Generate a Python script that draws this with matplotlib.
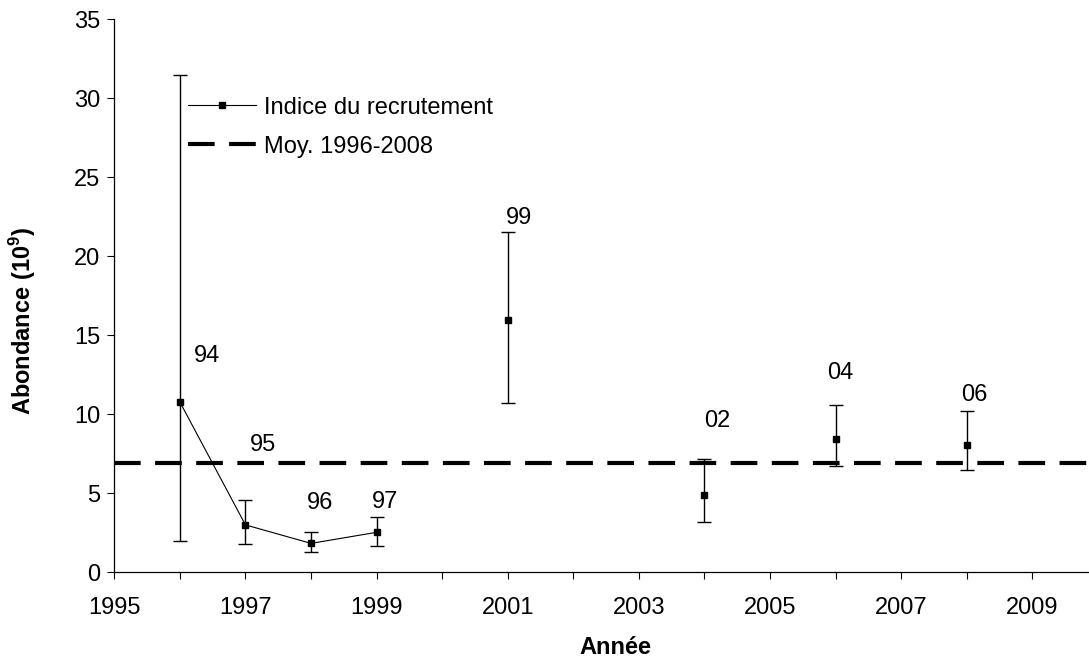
import numpy as np
import matplotlib
matplotlib.use("Agg")
import matplotlib.pyplot as plt
from matplotlib.lines import Line2D

plt.rcParams['font.family'] = ['Liberation Sans', 'DejaVu Sans']
plt.rcParams['mathtext.fontset'] = 'custom'
plt.rcParams['mathtext.rm'] = 'Liberation Sans'
plt.rcParams['mathtext.bf'] = 'Liberation Sans:bold'
plt.rcParams['lines.scale_dashes'] = False

# ---- data ----
years = [1996, 1997, 1998, 1999, 2000, 2001, 2002, 2003, 2004, 2005, 2006, 2007, 2008]
abundance = [10.78, 3.00, 1.83, 2.53, np.nan, 15.97, np.nan, np.nan, 4.89, np.nan, 8.44, np.nan, 8.08]
upper = [31.5, 4.59, 2.57, 3.52, np.nan, 21.54, np.nan, np.nan, 7.17, np.nan, 10.61, np.nan, 10.23]
lower = [2.00, 1.77, 1.30, 1.64, np.nan, 10.73, np.nan, np.nan, 3.18, np.nan, 6.71, np.nan, 6.49]
mean_1996_2008 = 6.93

cohort_labels = ["94", "95", "96", "97", "99", "02", "04", "06"]
cohort_x = [1996.42, 1997.27, 1998.14, 1999.13, 2001.17, 2004.19, 2006.07, 2008.12]
cohort_y = [13.7, 8.05, 4.37, 4.43, 22.4, 9.6, 12.6, 11.2]

xtick_years = list(range(1995, 2010))
ytick_vals = [0, 5, 10, 15, 20, 25, 30, 35]

FS = 17

fig = plt.figure(figsize=(10.89, 6.63), dpi=100)
ax = fig.add_axes([114.3/1089, 1-572.3/663, (1088-114.3)/1089, (572.3-19.3)/663])

y = np.array(abundance, dtype=float)
yerr = np.vstack([y - np.array(lower), np.array(upper) - y])

ax.errorbar(years, y, yerr=yerr, fmt='none', ecolor='black', elinewidth=1.0,
            capsize=4.8, capthick=1.0, zorder=2)
ax.plot(years, y, color='black', lw=0.8, marker='s', markersize=4.6,
        markerfacecolor='black', markeredgecolor='black', zorder=3)
ax.axhline(mean_1996_2008, color='black', lw=3.0, dashes=(19.2, 10.4), zorder=4)

for t, xx, yy in zip(cohort_labels, cohort_x, cohort_y):
    ax.text(xx, yy, t, ha='center', va='center', fontsize=FS)

ax.set_xlim(1995, 1995 + (1088-114.3)/65.57)
ax.set_ylim(0, 35)
ax.set_xticks(xtick_years)
ax.set_xticklabels([str(v) if v % 2 == 1 else '' for v in xtick_years])
ax.set_yticks(ytick_vals)
ax.tick_params(axis='both', direction='out', length=5, width=0.8, labelsize=FS, colors='black')
ax.tick_params(axis='x', pad=13)
ax.tick_params(axis='y', pad=5)
for s in ['top', 'right']:
    ax.spines[s].set_visible(False)
for s in ['left', 'bottom']:
    ax.spines[s].set_linewidth(0.9)

ax.set_xlabel('Année', fontsize=FS, fontweight='bold')
ax.xaxis.set_label_coords((615-114.3)/973.7, (572.3-648)/553)
ax.xaxis.label.set_va('center')
ax.set_ylabel('Abondance (10$^{\\mathbf{9}}$)', fontsize=FS, fontweight='bold')
ax.yaxis.set_label_coords((22.5-114.3)/973.7, (572.3-321)/553)
ax.yaxis.label.set_va('center')

h1 = Line2D([], [], color='black', lw=0.8, marker='s', markersize=4.6)
h2 = Line2D([], [], color='black', lw=3.0, dashes=(19.2, 10.4))
fig.legend([h1, h2], ['Indice du recrutement', 'Moy. 1996-2008'],
           loc='center left', bbox_to_anchor=(188/1089, 1-127/663),
           frameon=False, fontsize=FS, borderpad=0, borderaxespad=0,
           handlelength=2.9, handletextpad=0.3, labelspacing=0.72)

fig.savefig('out.png', dpi=100, facecolor='white')
